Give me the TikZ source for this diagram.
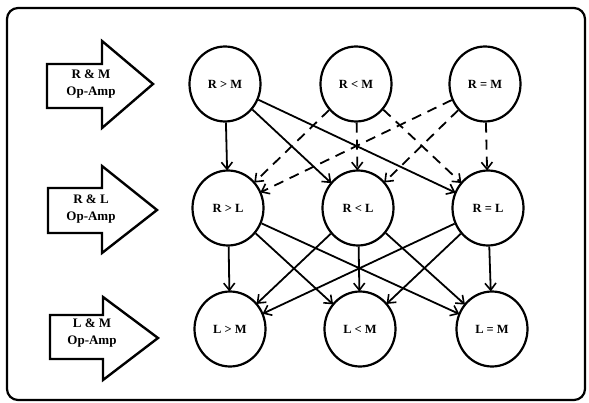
\documentclass[tikz,border=0pt]{standalone}
\usepackage{fontspec}
\setmainfont{Liberation Serif}
\usetikzlibrary{arrows.meta,shapes.geometric}
\begin{document}
\begin{tikzpicture}[x=1pt,y=-1pt,
  st/.style={ellipse,draw,line width=2.2pt,minimum width=71pt,minimum height=75pt,inner sep=0pt,font=\fontsize{12.5}{14}\selectfont\bfseries},
  edge/.style={line width=1.8pt,-{Straight Barb[length=7pt,width=11pt,line width=1.6pt]},shorten >=-1pt},
  dedge/.style={edge,dash pattern=on 10pt off 7pt},
  bigarrow/.style={draw,line width=2.4pt,line join=miter},
  alabel/.style={font=\fontsize{13}{16.5}\selectfont\bfseries,align=center,inner sep=0pt}]
\useasboundingbox (0,0) rectangle (589,403);
\draw[line width=2.2pt,rounded corners=11pt] (7,8) rectangle (585,400);
% block arrows
\draw[bigarrow] (47,64) -- (102,64) -- (102,41) -- (153,84) -- (102,128) -- (102,108) -- (47,108) -- cycle;
\node[alabel] (a1) at (91,84) {R \& M\\Op-Amp};
\draw[bigarrow] (48,188) -- (102,188) -- (102,166) -- (157,210) -- (102,253) -- (102,233) -- (48,233) -- cycle;
\node[alabel] (a2) at (91,209) {R \& L\\Op-Amp};
\draw[bigarrow] (50,315) -- (103,315) -- (103,297) -- (158,338) -- (103,380) -- (103,359) -- (50,359) -- cycle;
\node[alabel] (a3) at (92,333) {L \& M\\Op-Amp};
% states
\node[st] (RgM) at (225,84) {R > M};
\node[st] (RlM) at (356,84) {R < M};
\node[st] (ReM) at (485,84) {R = M};
\node[st] (RgL) at (228,208) {R > L};
\node[st] (RlL) at (358,208) {R < L};
\node[st] (ReL) at (488,208) {R = L};
\node[st] (LgM) at (230,329) {L > M};
\node[st] (LlM) at (360,329) {L < M};
\node[st] (LeM) at (492,329) {L = M};
% top to middle
\draw[edge] (RgM) -- (RgL);
\draw[edge] (RgM) -- (RlL);
\draw[edge] (RgM) -- (ReL);
\draw[dedge] (RlM) -- (RgL);
\draw[dedge] (RlM) -- (RlL);
\draw[dedge] (RlM) -- (ReL);
\draw[dedge] (ReM) -- (RgL);
\draw[dedge] (ReM) -- (RlL);
\draw[dedge] (ReM) -- (ReL);
% middle to bottom
\foreach \s in {RgL,RlL,ReL}{
  \foreach \t in {LgM,LlM,LeM}{
    \draw[edge] (\s) -- (\t);
  }
}
\end{tikzpicture}
\end{document}
